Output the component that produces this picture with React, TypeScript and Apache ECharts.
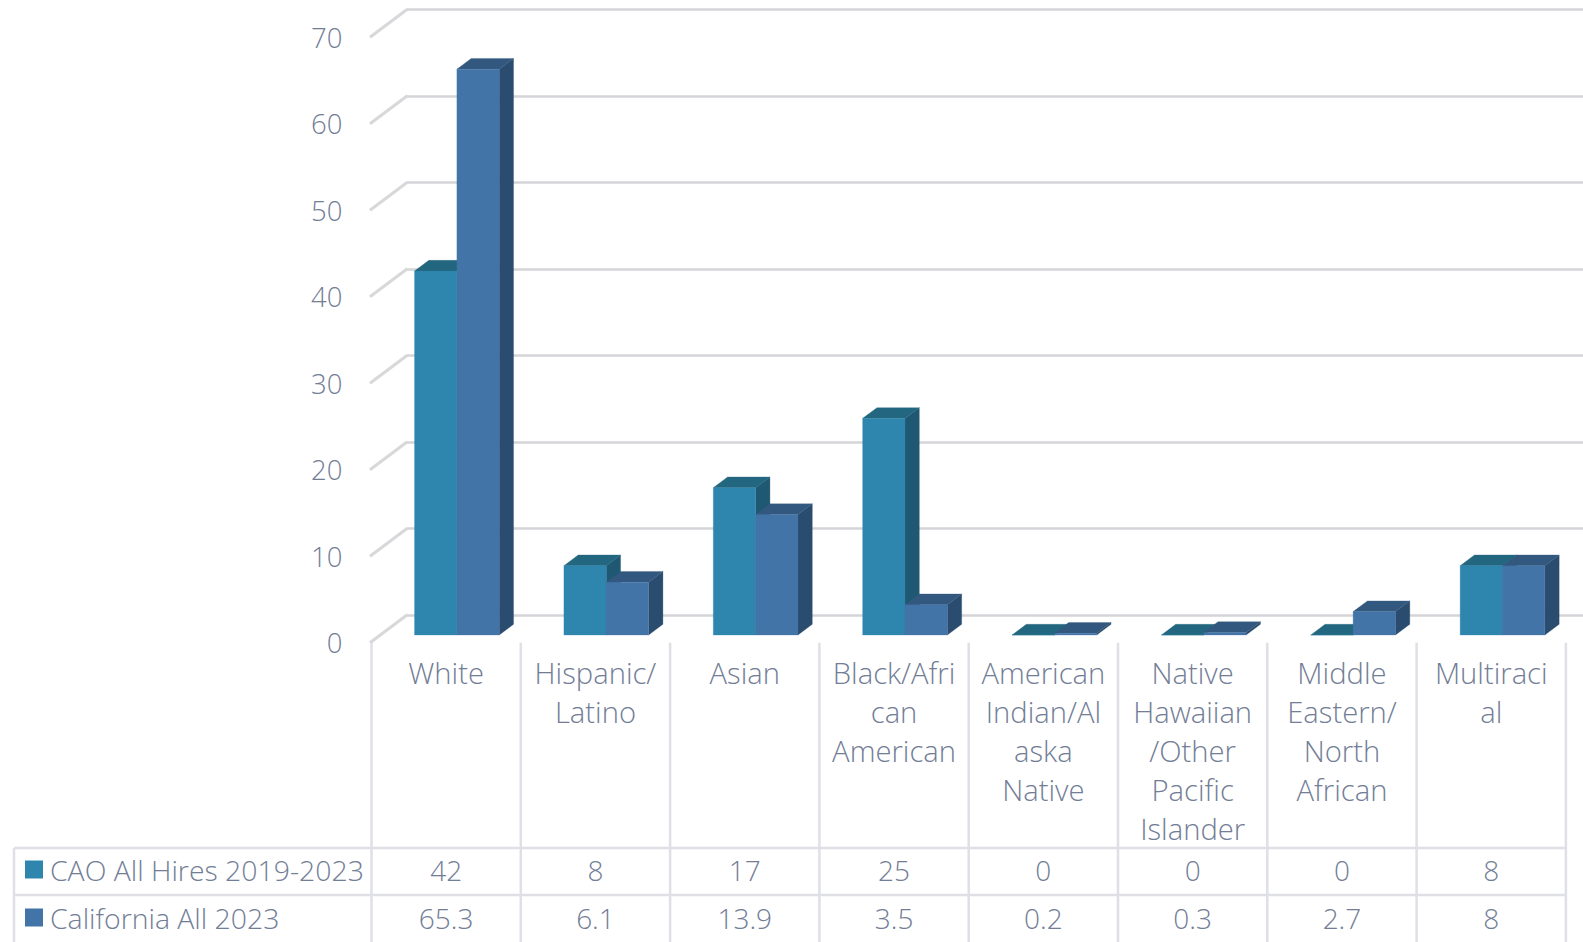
import React, { useEffect, useRef } from "react";
import * as echarts from "echarts";

const categories = [
  "White",
  "Hispanic/\nLatino",
  "Asian",
  "Black/Afri\ncan\nAmerican",
  "American\nIndian/Al\naska\nNative",
  "Native\nHawaiian\n/Other\nPacific\nIslander",
  "Middle\nEastern/\nNorth\nAfrican",
  "Multiraci\nal",
];
const caoName = "CAO All Hires 2019-2023";
const calName = "California All 2023";
const caoValues = [42, 8, 17, 25, 0, 0, 0, 8];
const calValues = [65.3, 6.1, 13.9, 3.5, 0.2, 0.3, 2.7, 8];
const yTicks = [0, 10, 20, 30, 40, 50, 60, 70];

const FONT = "'Open Sans'";
const TEXT = "#727d96";
const LINE = "#dfe0e6";
const W = 1583;
const H = 942;
const TABLE_LEFT = 14;
const FRONT_LEFT = 371.5;
const BAND = 149.3;
const WALL_BOTTOM = 642.8;
const ROW1 = 848;
const ROW2 = 895;
const ROW1_C = 869.5;
const ROW2_C = 917.5;
const DEPTH_X = 14.3;
const DEPTH_Y = 10.7;

function bar3d(side: number, front: string, top: string, dark: string) {
  return (_p: any, api: any) => {
    const idx = api.value(0);
    const val = api.value(1);
    const [cx, yTop] = api.coord([idx, val]);
    const [, yBase] = api.coord([idx, 0]);
    const w = api.size([1, 0])[0] * 0.2835;
    const x0 = cx + (side < 0 ? -w : 0);
    const x1 = x0 + w;
    const poly = (points: number[][], fill: string) => ({
      type: "polygon",
      shape: { points },
      style: { fill, stroke: fill, lineWidth: 0.3 },
    });
    return {
      type: "group",
      children: [
        poly([[x1, yTop], [x1 + DEPTH_X, yTop - DEPTH_Y], [x1 + DEPTH_X, yBase - DEPTH_Y], [x1, yBase]], dark),
        poly([[x0, yTop], [x1, yTop], [x1 + DEPTH_X, yTop - DEPTH_Y], [x0 + DEPTH_X, yTop - DEPTH_Y]], top),
        poly([[x0, yTop], [x1, yTop], [x1, yBase], [x0, yBase]], front),
      ],
    };
  };
}

function cellText(y: number) {
  return (_p: any, api: any) => {
    const [cx] = api.coord([api.value(0), 0]);
    return {
      type: "text",
      x: cx,
      y,
      style: {
        text: String(api.value(1)),
        fill: TEXT,
        fontFamily: FONT,
        fontWeight: 300,
        fontSize: 28,
        align: "center",
        verticalAlign: "middle",
      },
    };
  };
}

function wallDiagonal(_p: any, api: any) {
  const v = api.value(1);
  const [cx, y] = api.coord([0, v]);
  const x = cx - api.size([1, 0])[0] / 2 - 1.5;
  return {
    type: "polyline",
    shape: { points: [[x, y], [x + 37.3, y - 28]] },
    style: { stroke: "#d8d8db", lineWidth: 3, fill: "none" },
    silent: true,
  };
}

function hLine(x1: number, x2: number, y: number) {
  return { type: "line", shape: { x1, y1: y, x2, y2: y }, style: { stroke: LINE, lineWidth: 2.5 }, silent: true };
}
function vLine(x: number, y1: number, y2: number) {
  return { type: "line", shape: { x1: x, y1, x2: x, y2 }, style: { stroke: LINE, lineWidth: 2.5 }, silent: true };
}

function legendFor(name: string, centerY: number) {
  return {
    orient: "vertical",
    left: 20,
    top: centerY - 21,
    itemWidth: 18,
    itemHeight: 18,
    icon: "rect",
    selectedMode: false,
    data: [name],
    textStyle: { color: TEXT, fontFamily: FONT, fontWeight: 300, fontSize: 28.4, lineHeight: 32, padding: [0, 0, 0, 2] },
  };
}

export default function App() {
  const ref = useRef<HTMLDivElement>(null);
  useEffect(() => {
    document.body.style.margin = "0";
    const chart = echarts.init(ref.current!, null, { renderer: "svg" });
    const right = FRONT_LEFT + BAND * categories.length;
    const indices = categories.map((_, i) => i);
    chart.setOption({
      animation: false,
      backgroundColor: "#ffffff",
      textStyle: { fontFamily: FONT },
      legend: [legendFor(caoName, ROW1_C), legendFor(calName, ROW2_C)],
      grid: [
        { left: FRONT_LEFT, top: 37.3, width: BAND * categories.length, height: WALL_BOTTOM - 37.3 },
        { left: 382.2, top: 28.4, width: 1195, height: 606.6 },
        { left: 407, top: 9.5, width: W - 407, height: 605.7 },
      ],
      xAxis: [
        {
          gridIndex: 0,
          type: "category",
          data: categories,
          axisLine: { show: false },
          axisTick: { show: false },
          axisLabel: {
            interval: 0,
            margin: 10.5,
            color: TEXT,
            fontFamily: FONT,
            fontWeight: 300,
            fontSize: 29.2,
            lineHeight: 39,
            align: "center",
            verticalAlign: "top",
            hideOverlap: false,
          },
        },
        { gridIndex: 1, type: "category", data: categories, show: false },
        { gridIndex: 2, type: "category", data: categories, show: false },
      ],
      yAxis: [
        {
          gridIndex: 0,
          type: "value",
          min: 0,
          max: 70,
          interval: 10,
          axisLine: { show: false },
          axisTick: { show: false },
          splitLine: { show: false },
          axisLabel: { margin: 29, color: TEXT, fontFamily: FONT, fontWeight: 300, fontSize: 27.5 },
        },
        { gridIndex: 1, type: "value", min: 0, max: 70, interval: 10, show: false, splitLine: { show: false } },
        {
          gridIndex: 2,
          type: "value",
          min: 0,
          max: 70,
          interval: 10,
          axisLine: { show: false },
          axisTick: { show: false },
          axisLabel: { show: false },
          splitLine: { show: true, lineStyle: { color: "#d4d4d9", width: 2.5 } },
        },
      ],
      series: [
        {
          type: "custom",
          name: "wall",
          xAxisIndex: 0,
          yAxisIndex: 0,
          silent: true,
          data: yTicks.map((t) => [0, t]),
          encode: { x: 0, y: 1 },
          renderItem: wallDiagonal,
        },
        {
          type: "custom",
          name: caoName,
          xAxisIndex: 1,
          yAxisIndex: 1,
          itemStyle: { color: "#2e86ae" },
          data: caoValues.map((v, i) => [i, v]),
          encode: { x: 0, y: 1 },
          renderItem: bar3d(-1, "#2e86ae", "#22677f", "#1f5872"),
        },
        {
          type: "custom",
          name: calName,
          xAxisIndex: 1,
          yAxisIndex: 1,
          itemStyle: { color: "#4374a8" },
          data: calValues.map((v, i) => [i, v]),
          encode: { x: 0, y: 1 },
          renderItem: bar3d(1, "#4374a8", "#32587f", "#2a4c6e"),
        },
        {
          type: "custom",
          name: "tableRow1",
          xAxisIndex: 0,
          yAxisIndex: 0,
          silent: true,
          data: indices.map((i) => [i, caoValues[i]]),
          encode: { x: 0 },
          renderItem: cellText(ROW1_C),
        },
        {
          type: "custom",
          name: "tableRow2",
          xAxisIndex: 0,
          yAxisIndex: 0,
          silent: true,
          data: indices.map((i) => [i, calValues[i]]),
          encode: { x: 0 },
          renderItem: cellText(ROW2_C),
        },
      ],
      graphic: [
        hLine(TABLE_LEFT, right, ROW1),
        hLine(TABLE_LEFT, right, ROW2),
        vLine(TABLE_LEFT, ROW1, H),
        ...[0, ...indices.map((i) => i + 1)].map((i) => vLine(FRONT_LEFT + BAND * i, WALL_BOTTOM, H)),
      ],
    });
    return () => chart.dispose();
  }, []);
  return <div ref={ref} style={{ position: "absolute", left: 0, top: 0, width: W, height: H }} />;
}
